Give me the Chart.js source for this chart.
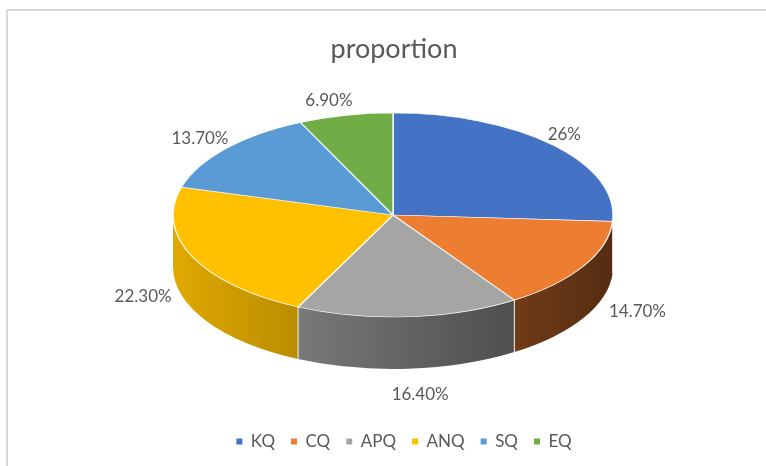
<!DOCTYPE html>
<html>
<head>
<meta charset="utf-8">
<script src="https://cdn.jsdelivr.net/npm/chart.js@4.4.1/dist/chart.umd.min.js"></script>
<style>
  html, body { margin:0; padding:0; background:#fff; overflow:hidden; width:766px; height:466px; }
  #frame { position:absolute; left:6px; top:9px; width:800px; height:500px; border:2px solid #d9d9d9; box-sizing:border-box; }
  #c { position:absolute; left:0; top:0; }
</style>
</head>
<body>
<div id="frame"></div>
<canvas id="c" width="766" height="466"></canvas>
<script>
const categories = ['KQ', 'CQ', 'APQ', 'ANQ', 'SQ', 'EQ'];
const values = [26, 14.7, 16.4, 22.3, 13.7, 6.9];
const valueLabels = ['26%', '14.70%', '16.40%', '22.30%', '13.70%', '6.90%'];
const colors = ['#4472C4', '#ED7D31', '#A5A5A5', '#FFC000', '#5B9BD5', '#70AD47'];

// 3D projection layout
const CX = 393, CY = 215, RX = 220, RY = 102, DEPTH = 52;
const LEGEND_SHIFT = 10;
const TEXT = '#595959';

function shade(hex, f) {
  const n = parseInt(hex.slice(1), 16);
  const r = Math.round(((n >> 16) & 255) * f), g = Math.round(((n >> 8) & 255) * f), b = Math.round((n & 255) * f);
  return `rgb(${r},${g},${b})`;
}

const pie3d = {
  id: 'pie3d',
  afterLayout(chart) {
    const lg = chart.legend;
    if (lg && !lg._shifted) {
      const orig = lg.draw;
      lg.draw = function (area) {
        const ctx = chart.ctx;
        ctx.save(); ctx.translate(LEGEND_SHIFT, 0);
        orig.call(this, area);
        ctx.restore();
      };
      lg._shifted = true;
    }
  },
  beforeDatasetsDraw(chart) {
    const ctx = chart.ctx;
    const arcs = chart.getDatasetMeta(0).data;
    // side walls
    arcs.forEach((arc, i) => {
      const a1 = Math.max(arc.startAngle, 0), a2 = Math.min(arc.endAngle, Math.PI);
      if (a1 >= a2) return;
      const g = ctx.createLinearGradient(CX - RX, 0, CX + RX, 0);
      g.addColorStop(0, shade(colors[i], 0.88));
      g.addColorStop(1, shade(colors[i], 0.36));
      ctx.save();
      ctx.beginPath();
      ctx.ellipse(CX, CY, RX, RY, 0, a1, a2, false);
      ctx.lineTo(CX + RX * Math.cos(a2), CY + RY * Math.sin(a2) + DEPTH);
      ctx.ellipse(CX, CY + DEPTH, RX, RY, 0, a2, a1, true);
      ctx.closePath();
      ctx.fillStyle = g;
      ctx.fill();
      ctx.restore();
    });
    // separators on walls
    arcs.forEach(arc => {
      const a = arc.startAngle;
      if (a > 0 && a < Math.PI) {
        const x = CX + RX * Math.cos(a), y = CY + RY * Math.sin(a);
        ctx.save();
        ctx.strokeStyle = 'rgba(255,255,255,0.75)';
        ctx.lineWidth = 1.2;
        ctx.beginPath(); ctx.moveTo(x, y); ctx.lineTo(x, y + DEPTH); ctx.stroke();
        ctx.restore();
      }
    });
    // top faces (library arcs, projected)
    arcs.forEach(arc => {
      ctx.save();
      ctx.translate(CX, CY);
      ctx.scale(RX / arc.outerRadius, RY / arc.outerRadius);
      ctx.translate(-arc.x, -arc.y);
      arc.draw(ctx);
      ctx.restore();
    });
    return false;
  },
  afterDraw(chart) {
    const ctx = chart.ctx;
    const arcs = chart.getDatasetMeta(0).data;
    ctx.save();
    ctx.font = '17px Lato';
    ctx.fillStyle = TEXT;
    ctx.textAlign = 'center';
    ctx.textBaseline = 'middle';
    arcs.forEach((arc, i) => {
      const mid = (arc.startAngle + arc.endAngle) / 2;
      const cs = Math.cos(mid), sn = Math.sin(mid);
      const txt = valueLabels[i];
      const w = ctx.measureText(txt).width;
      let px = CX + (RX + 15) * cs, py = CY + (RY + 15) * sn;
      if (sn > 0) {
        py += 13 + 50 * sn;
        px += cs * w * 0.75 + 8 * sn;
      } else if (cs < 0) {
        px += cs * w * 0.25 - 10 * (1 + sn) - 14 * Math.max(0, -sn - 0.9) / 0.1;
      }
      ctx.fillText(txt, px, py);
    });
    ctx.restore();
  }
};

new Chart(document.getElementById('c'), {
  type: 'pie',
  data: {
    labels: categories,
    datasets: [{
      data: values,
      backgroundColor: colors,
      borderColor: 'rgba(255,255,255,0.85)',
      borderWidth: 1.2
    }]
  },
  options: {
    responsive: false,
    animation: false,
    events: [],
    layout: { padding: { top: 0, bottom: 6, left: 22, right: 0 } },
    plugins: {
      title: {
        display: true,
        text: 'proportion',
        color: TEXT,
        font: { family: 'Lato', size: 27, weight: 'normal' },
        padding: { top: 33, bottom: 10 }
      },
      legend: {
        position: 'bottom',
        labels: {
          font: { family: 'Lato', size: 17 },
          color: TEXT,
          boxWidth: 6,
          boxHeight: 6,
          padding: 16,
          generateLabels: (chart) => categories.map((l, i) => ({
            text: l, fillStyle: colors[i], strokeStyle: colors[i], lineWidth: 0,
            hidden: false, index: i, fontColor: TEXT
          }))
        }
      },
      tooltip: { enabled: false }
    }
  },
  plugins: [pie3d]
});
</script>
</body>
</html>
